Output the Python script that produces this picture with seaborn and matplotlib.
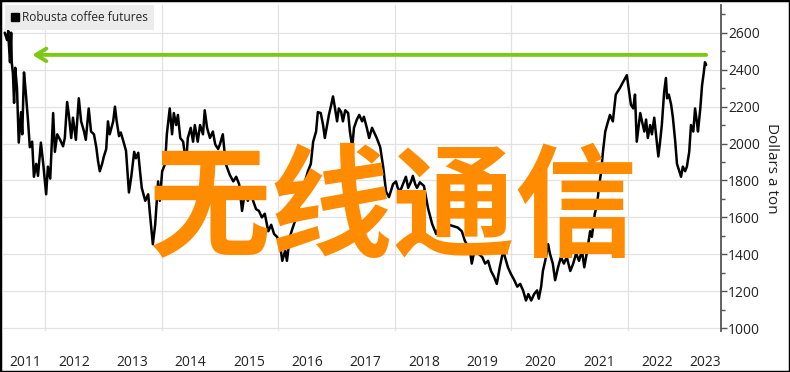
import numpy as np
import pandas as pd
import matplotlib
matplotlib.use("Agg")
import matplotlib.pyplot as plt
import seaborn as sns
from matplotlib.lines import Line2D
from matplotlib.patches import Rectangle
from matplotlib.ticker import MultipleLocator

# ---- data (decimal year, USD per ton) ----
years = [
    2011.31, 2011.35, 2011.37, 2011.38, 2011.40, 2011.42, 2011.43, 2011.45, 2011.47, 2011.49,
    2011.52, 2011.55, 2011.59, 2011.61, 2011.64, 2011.67, 2011.71, 2011.74, 2011.78, 2011.81,
    2011.85, 2011.88, 2011.93, 2011.97, 2012.02, 2012.05, 2012.09, 2012.14, 2012.17, 2012.21,
    2012.26, 2012.31, 2012.34, 2012.38, 2012.41, 2012.45, 2012.48, 2012.53, 2012.58, 2012.62,
    2012.67, 2012.70, 2012.75, 2012.79, 2012.84, 2012.88, 2012.91, 2012.94, 2012.98, 2013.01,
    2013.05, 2013.08, 2013.11, 2013.17, 2013.20, 2013.23, 2013.27, 2013.30, 2013.36, 2013.39,
    2013.44, 2013.48, 2013.53, 2013.56, 2013.60, 2013.63, 2013.66, 2013.72, 2013.77, 2013.80,
    2013.85, 2013.89, 2013.94, 2013.97, 2014.01, 2014.06, 2014.09, 2014.14, 2014.18, 2014.21,
    2014.25, 2014.28, 2014.32, 2014.37, 2014.42, 2014.45, 2014.50, 2014.54, 2014.57, 2014.62,
    2014.66, 2014.71, 2014.74, 2014.78, 2014.83, 2014.88, 2014.92, 2014.97, 2015.00, 2015.05,
    2015.10, 2015.17, 2015.23, 2015.28, 2015.33, 2015.38, 2015.43, 2015.48, 2015.52, 2015.57,
    2015.62, 2015.67, 2015.72, 2015.77, 2015.83, 2015.88, 2015.93, 2015.98, 2016.03, 2016.07,
    2016.12, 2016.15, 2016.20, 2016.25, 2016.31, 2016.36, 2016.41, 2016.46, 2016.51, 2016.56,
    2016.60, 2016.65, 2016.68, 2016.73, 2016.77, 2016.80, 2016.84, 2016.87, 2016.91, 2016.94,
    2016.97, 2017.01, 2017.04, 2017.08, 2017.11, 2017.15, 2017.20, 2017.23, 2017.27, 2017.30,
    2017.35, 2017.39, 2017.44, 2017.47, 2017.52, 2017.56, 2017.61, 2017.66, 2017.69, 2017.75,
    2017.80, 2017.85, 2017.90, 2017.93, 2017.97, 2018.02, 2018.05, 2018.09, 2018.14, 2018.19,
    2018.23, 2018.28, 2018.31, 2018.35, 2018.38, 2018.43, 2018.50, 2018.57, 2018.64, 2018.71,
    2018.78, 2018.86, 2018.93, 2018.98, 2019.08, 2019.15, 2019.20, 2019.29, 2019.32, 2019.38,
    2019.43, 2019.50, 2019.55, 2019.60, 2019.65, 2019.70, 2019.75, 2019.80, 2019.86, 2019.89,
    2019.94, 2019.99, 2020.05, 2020.10, 2020.15, 2020.20, 2020.25, 2020.29, 2020.34, 2020.39,
    2020.44, 2020.47, 2020.51, 2020.54, 2020.58, 2020.63, 2020.66, 2020.71, 2020.75, 2020.80,
    2020.85, 2020.90, 2020.95, 2021.01, 2021.06, 2021.11, 2021.16, 2021.21, 2021.25, 2021.30,
    2021.35, 2021.38, 2021.43, 2021.47, 2021.50, 2021.54, 2021.57, 2021.61, 2021.64, 2021.69,
    2021.74, 2021.79, 2021.86, 2021.91, 2021.98, 2022.02, 2022.05, 2022.09, 2022.12, 2022.15,
    2022.21, 2022.24, 2022.28, 2022.31, 2022.34, 2022.38, 2022.41, 2022.45, 2022.48, 2022.52,
    2022.55, 2022.58, 2022.62, 2022.65, 2022.67, 2022.70, 2022.74, 2022.77, 2022.81, 2022.84,
    2022.88, 2022.91, 2022.94, 2022.98, 2023.01, 2023.05, 2023.08, 2023.12, 2023.15, 2023.18,
    2023.20, 2023.24, 2023.27, 2023.30, 2023.32, 2023.34,
]
prices = [
    2600, 2560, 2610, 2540, 2440, 2600, 2440, 2380, 2220, 2410,
    2300, 2005, 2170, 2050, 2385, 2280, 2120, 1980, 2010, 1820,
    1890, 1825, 2005, 1890, 1725, 1875, 1810, 2165, 1955, 2050,
    2020, 1985, 2030, 2225, 2155, 2030, 2140, 2020, 2245, 2120,
    2065, 2020, 2190, 2065, 2050, 1980, 1905, 1850, 1890, 1930,
    1970, 2120, 2050, 2120, 2200, 2120, 2040, 2060, 1995, 1960,
    1735, 1820, 1955, 1920, 1950, 1850, 1760, 1690, 1725, 1620,
    1455, 1560, 1795, 1690, 1850, 1890, 2050, 2190, 2050, 2165,
    2100, 2155, 2030, 2010, 1890, 2030, 2085, 2010, 2100, 2010,
    2100, 2050, 2180, 2085, 2030, 2065, 1995, 1970, 1995, 2050,
    1890, 1830, 1795, 1820, 1780, 1635, 1740, 1690, 1740, 1690,
    1645, 1635, 1600, 1620, 1525, 1560, 1510, 1495, 1455, 1365,
    1420, 1365, 1495, 1545, 1600, 1670, 1725, 1795, 1850, 1890,
    2010, 2065, 2170, 2165, 2100, 2030, 2100, 2155, 2210, 2255,
    2200, 2120, 2190, 2170, 2120, 2180, 2165, 2065, 1980, 2085,
    2130, 2155, 2120, 2145, 2085, 2030, 2085, 2050, 2030, 1980,
    1875, 1740, 1710, 1740, 1780, 1795, 1760, 1740, 1780, 1820,
    1760, 1795, 1825, 1780, 1760, 1790, 1770, 1650, 1565, 1510,
    1565, 1580, 1560, 1555, 1545, 1525, 1475, 1420, 1350, 1440,
    1405, 1385, 1350, 1365, 1310, 1280, 1240, 1330, 1420, 1385,
    1330, 1295, 1260, 1225, 1240, 1205, 1150, 1185, 1150, 1185,
    1205, 1160, 1225, 1310, 1365, 1455, 1405, 1350, 1260, 1330,
    1385, 1350, 1385, 1310, 1350, 1405, 1365, 1420, 1330, 1420,
    1525, 1495, 1620, 1670, 1760, 1850, 1955, 2065, 2100, 2155,
    2120, 2265, 2300, 2330, 2370, 2280, 2210, 2190, 2265, 2010,
    2165, 2120, 2065, 2130, 2030, 2100, 2050, 2140, 2050, 1930,
    2010, 2100, 2280, 2355, 2245, 2265, 2210, 2140, 2010, 1890,
    1850, 1820, 1875, 1850, 1875, 1955, 2100, 2065, 2190, 2120,
    2065, 2190, 2315, 2385, 2440, 2425,
]
year_labels = ["2011", "2012", "2013", "2014", "2015", "2016", "2017",
               "2018", "2019", "2020", "2021", "2022", "2023"]
year_label_pos = [2011.66, 2012.5, 2013.5, 2014.5, 2015.5, 2016.5, 2017.5,
                  2018.5, 2019.5, 2020.5, 2021.5, 2022.5, 2023.32]
grid_years = [2012, 2014, 2016, 2018, 2020, 2022]
y_ticks = [1000, 1200, 1400, 1600, 1800, 2000, 2200, 2400, 2600]
arrow_level = 2480
arrow_from, arrow_to = 2023.34, 2011.78
series_name = "Robusta coffee futures"
y_label = "Dollars a ton"
overlay_text = "无线通信"

df = pd.DataFrame({"year": years, "price": prices})

sns.set_style("white")
plt.rcParams["font.family"] = ["Open Sans", "DejaVu Sans"]

fig = plt.figure(figsize=(7.9, 3.72), dpi=100)
ax = fig.add_axes([3 / 790, 41 / 372, 718 / 790, 326 / 372])

for gy in grid_years:
    ax.axvline(gy, color="#e2e2e2", lw=0.9, zorder=0)
for yt in y_ticks:
    ax.axhline(yt, color="#e2e2e2", lw=0.9, zorder=0)

sns.lineplot(data=df, x="year", y="price", ax=ax, color="black", lw=1.8,
             zorder=3, legend=False)

ax.set_xlim(2011.28, 2023.595)
ax.set_ylim(985, 2750)

for s in ["top", "left", "bottom"]:
    ax.spines[s].set_visible(False)
ax.spines["right"].set_color("#555555")
ax.spines["right"].set_linewidth(1.3)

ax.yaxis.tick_right()
ax.yaxis.set_label_position("right")
ax.set_yticks(y_ticks)
ax.set_yticklabels([str(v) for v in y_ticks])
ax.yaxis.set_minor_locator(MultipleLocator(100))
ax.tick_params(axis="y", which="major", direction="out", length=4, width=1,
               color="#555555", labelsize=10, pad=1, labelcolor="#222222")
ax.tick_params(axis="y", which="minor", direction="out", length=3, width=1,
               color="#555555")
ax.set_ylabel(y_label, rotation=270, fontsize=11, labelpad=14, color="#222222")

ax.set_xticks(year_label_pos)
ax.set_xticklabels(year_labels)
ax.tick_params(axis="x", length=0, labelsize=10, pad=17, labelcolor="#222222")
ax.set_xlabel("")

# green arrow
ax.annotate("", xy=(arrow_to, arrow_level), xytext=(arrow_from, arrow_level),
            arrowprops=dict(arrowstyle="->,head_length=0.75,head_width=0.45",
                            color="#7cc815", lw=2.8, shrinkA=0, shrinkB=0),
            zorder=4)

# legend
handle = Line2D([], [], marker="s", color="black", linestyle="none", markersize=6)
leg = ax.legend([handle], [series_name], loc="upper left",
                bbox_to_anchor=(2 / 718, 1.0), frameon=True, fancybox=False,
                handlelength=0.6, handletextpad=0.3, borderpad=0.5,
                borderaxespad=0, fontsize=8.6)
leg.get_frame().set_facecolor("#ececec")
leg.get_frame().set_edgecolor("none")
leg.get_frame().set_alpha(1)
leg.set_zorder(6)

# overlay text
fig.text(393 / 790, 1 - 212 / 372, overlay_text, ha="center", va="center",
         fontsize=88, color="#ff8c00", fontweight="bold",
         family=["Noto Sans CJK SC", "DejaVu Sans"], zorder=10)

# figure border
fig.patches.append(Rectangle((0, 0), 1, 1, transform=fig.transFigure,
                             fill=False, edgecolor="black", lw=2.5, zorder=20))

fig.savefig("out.png", dpi=100)
